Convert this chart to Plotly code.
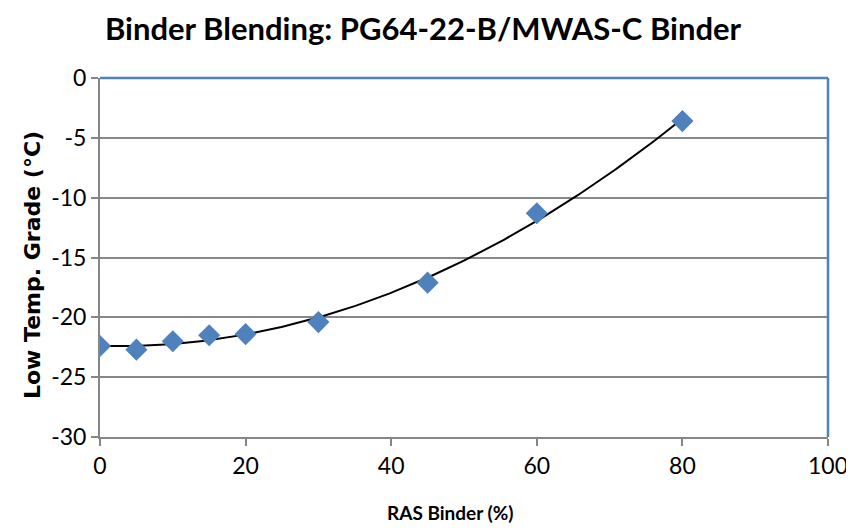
import numpy as np
import plotly.graph_objects as go

ras_binder = [0, 5, 10, 15, 20, 30, 45, 60, 80]
low_temp = [-22.4, -22.7, -22.0, -21.5, -21.4, -20.4, -17.1, -11.3, -3.6]

x_ticks = [0, 20, 40, 60, 80, 100]
y_ticks = [-30, -25, -20, -15, -10, -5, 0]
y_tick_labels = ["-30", "-25", "-20", "-15", "-10", "-5", "0"]

coef = np.polyfit(ras_binder, low_temp, 2)
xt = np.linspace(min(ras_binder), max(ras_binder), 200)
yt = np.polyval(coef, xt)

fig = go.Figure()
fig.add_trace(go.Scatter(x=xt, y=yt, mode="lines",
                         line=dict(color="black", width=2), showlegend=False, hoverinfo="skip"))
fig.add_trace(go.Scatter(x=ras_binder, y=low_temp, mode="markers",
                         marker=dict(symbol="diamond", size=17, color="#4F81BD"),
                         showlegend=False))

fig.add_shape(type="line", xref="paper", yref="paper", x0=0, x1=1, y0=1, y1=1,
              line=dict(color="#4F81BD", width=2.5))
fig.add_shape(type="line", xref="paper", yref="paper", x0=1, x1=1, y0=0, y1=1,
              line=dict(color="#4F81BD", width=2.5))

font = "Lato, Open Sans, sans-serif"

fig.add_annotation(text="<b>RAS Binder (%)</b>", xref="paper", yref="paper",
                   x=0.481, y=0, yshift=-75, xanchor="center", yanchor="middle",
                   showarrow=False, font=dict(size=19, family=font, color="black"))
fig.add_annotation(text="<b>Low Temp. Grade (°C)</b>", xref="paper", yref="paper",
                   x=0, xshift=-68, y=0.479, xanchor="center", yanchor="middle",
                   textangle=-90, showarrow=False,
                   font=dict(size=22, family="DejaVu Sans", color="black"))

fig.update_layout(
    width=854, height=531,
    margin=dict(l=92, r=34, t=70, b=102),
    paper_bgcolor="white", plot_bgcolor="white",
    title=dict(text="<b>Binder Blending: PG64-22-B/MWAS-C Binder</b>",
               x=0.486, xanchor="center", y=0.96, yanchor="middle",
               font=dict(family=font, size=31, color="black")),
    font=dict(family=font, color="black"),
)
fig.update_xaxes(range=[0, 100], tickvals=x_ticks,
                 showgrid=False, zeroline=False, automargin=False,
                 showline=True, linecolor="#868686", linewidth=2,
                 ticks="outside", ticklen=7, tickcolor="#868686", tickwidth=2,
                 tickfont=dict(size=23, family=font))
fig.update_yaxes(range=[-30, 0], tickvals=y_ticks, ticktext=y_tick_labels,
                 showgrid=True, gridcolor="#878787", gridwidth=2, zeroline=False, automargin=False,
                 showline=True, linecolor="#868686", linewidth=2,
                 ticks="outside", ticklen=7, tickcolor="#868686", tickwidth=2,
                 tickfont=dict(size=23, family=font))

fig.write_html("out.html")
